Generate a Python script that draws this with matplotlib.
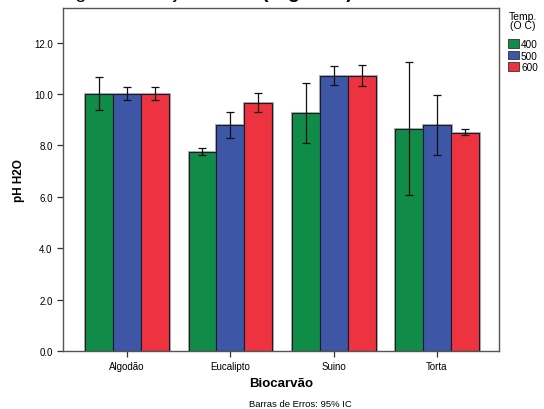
import numpy as np
import matplotlib
matplotlib.use('Agg')
import matplotlib.pyplot as plt

plt.rcParams['font.family'] = ['Liberation Sans', 'DejaVu Sans']

# Data (mean pH and 95% CI limits)
categorias = ['Algodão', 'Eucalipto', 'Suino', 'Torta']
temps = ['400', '500', '600']
medias = {
    '400': [10.02, 7.75, 9.25, 8.65],
    '500': [10.02, 8.78, 10.70, 8.78],
    '600': [10.02, 9.65, 10.72, 8.48],
}
ic_inf = {
    '400': [9.38, 7.62, 8.08, 6.08],
    '500': [9.78, 8.28, 10.34, 7.63],
    '600': [9.78, 9.30, 10.31, 8.39],
}
ic_sup = {
    '400': [10.68, 7.92, 10.45, 11.25],
    '500': [10.28, 9.32, 11.08, 9.98],
    '600': [10.28, 10.05, 11.15, 8.64],
}
cores = {'400': '#108c48', '500': '#3d56a6', '600': '#ee3340'}

fig = plt.figure(figsize=(5.44, 4.10), dpi=100)
ax = fig.add_axes([63 / 544, 1 - 352 / 410, 436 / 544, 343 / 410])

x = np.arange(len(categorias))
w = 0.27
for i, t in enumerate(temps):
    m = np.array(medias[t])
    lo = m - np.array(ic_inf[t])
    hi = np.array(ic_sup[t]) - m
    pos = x + (i - 1) * w
    # soft gray shadow outline
    ax.bar(pos, m, w, color='none', edgecolor='#b0b0b0', linewidth=2.2, zorder=1)
    ax.bar(pos, m, w, color=cores[t], edgecolor='#1a1a2a', linewidth=0.8,
           label=t, zorder=2)
    ax.errorbar(pos, m, yerr=[lo, hi], fmt='none', ecolor='#111111',
                elinewidth=0.9, capsize=3, capthick=0.9, zorder=3)

ax.set_xlim(-0.62, 3.6)
ax.set_ylim(0, 13.35)
ax.set_yticks([0, 2, 4, 6, 8, 10, 12])
ax.set_yticklabels(['0.0', '2.0', '4.0', '6.0', '8.0', '10.0', '12.0'])
ax.set_xticks(x)
ax.set_xticklabels(categorias)
ax.tick_params(labelsize=7, length=4, width=0.9, color='#333333')
for s in ax.spines.values():
    s.set_color('#555555')
    s.set_linewidth(1.0)

ax.set_ylabel('pH H2O', fontsize=8.5, fontweight='bold', labelpad=6)
ax.set_xlabel('Biocarvão', fontsize=9.5, fontweight='bold', labelpad=4)

# legend title placed by hand, items a little lower
fig.text(523 / 544, 1 - 12 / 410, 'Temp.\n(O C)', fontsize=7.5, ha='center',
         va='top', linespacing=0.85)
leg = ax.legend(loc='upper left', bbox_to_anchor=(1.015, 1 - 29 / 343),
                frameon=False, fontsize=7.2,
                handlelength=1.1, handleheight=0.95, handletextpad=0.25,
                labelspacing=0.15, borderaxespad=0, borderpad=0.2)
for h in leg.legend_handles:
    h.set_edgecolor('#333333')
    h.set_linewidth(0.6)

# title is cut off at the top edge in the reference
ty = 1 + 1.5 / 410
fig.text(258 / 544, ty, 'Algodão e objeto corvo', fontsize=14,
         va='baseline', ha='right')
fig.text(262 / 544, ty, '(Algodão)', fontsize=14, fontweight='bold',
         va='baseline', ha='left')
fig.text(300 / 544, 1 / 410, 'Barras de Erros: 95% IC', fontsize=6.8,
         ha='center', va='bottom')

fig.savefig('out.png', dpi=100)
